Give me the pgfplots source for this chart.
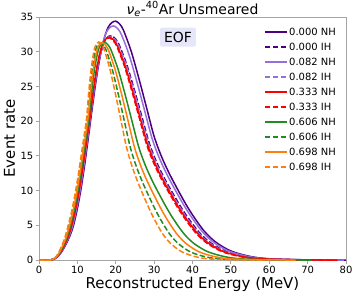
\documentclass[border=0pt]{standalone}
\usepackage{pgfplots}
\pgfplotsset{compat=1.18}
\usepackage{fontspec}
\setmainfont{DejaVu Sans}
\definecolor{spine}{RGB}{165,165,165}
\definecolor{cP}{RGB}{75,0,130}
\definecolor{cL}{RGB}{147,112,219}
\definecolor{cR}{RGB}{255,0,0}
\definecolor{cG}{RGB}{34,139,34}
\definecolor{cO}{RGB}{255,127,14}
\definecolor{eofbg}{RGB}{230,230,250}
\begin{document}
\begin{tikzpicture}
\begin{axis}[
  scale only axis, width=307bp, height=243bp,
  xmin=0, xmax=80, ymin=0, ymax=35,
  xtick={0,10,...,80}, ytick={0,5,...,35},
  tick align=outside, major tick length=3.5bp,
  xtick pos=bottom, ytick pos=left,
  axis line style={spine, line width=0.9bp},
  tick style={spine, line width=0.9bp},
  /pgf/number format/assume math mode=true,
  tick label style={font=\fontsize{10}{12}\selectfont},
  xticklabel style={anchor=base, inner sep=0pt, yshift=-10.3bp},
  yticklabel style={anchor=east, inner sep=0pt, xshift=-2bp},
  title={\textit{ν}\textsubscript{\textit{e}}-\textsuperscript{40}Ar Unsmeared},
  title style={font=\fontsize{14}{16}\selectfont, at={(axis description cs:0.5,1)}, anchor=base, yshift=-3bp},
  xlabel={Reconstructed Energy (MeV)},
  xlabel style={font=\fontsize{15}{17}\selectfont, at={(axis description cs:0.5,-0.1152)}, anchor=base},
  ylabel={Event rate},
  ylabel style={font=\fontsize{15}{17}\selectfont, at={(axis description cs:-0.0782,0.5)}, anchor=base, rotate=0},
  legend style={draw=none, fill=none, at={(axis description cs:1,1)}, anchor=north east, xshift=-8.5bp, yshift=-7.5bp,
    font=\fontsize{10}{12}\selectfont, inner sep=0pt, row sep=0pt,
    nodes={text height=7.3bp, text depth=0bp, inner ysep=3.85bp, inner xsep=1.5bp},
    /tikz/every even column/.append style={column sep=4bp}},
  legend cell align=left,
  legend image code/.code={\draw[#1, line width=1.6bp] (0bp,0bp) -- (22bp,0bp);},
  every axis plot/.append style={line width=1.5bp, smooth},
  solidl/.style={solid},
  dashl/.style={dash pattern=on 5.5bp off 2.4bp},
]
\coordinate (sw) at (rel axis cs:0,0);
\coordinate (ne) at (rel axis cs:1,1);

% 0.000 NH
\addplot[cP, solidl] coordinates {(0,0) (3,0) (4,0.15) (5,0.55) (6,1.25) (7,2.25) (8,3.4) (9,5.0) (10,7.4) (11,10.4) (12,14.1) (13,18.2) (14,22.4) (15,26.3) (16,29.5) (17,31.9) (18,33.5) (19,34.2) (20,34.4) (21,34.0) (22,33.1) (24,30.1) (26,26.2) (28,22.0) (30,17.8) (32,14.8) (34,12.4) (36,10.3) (38,8.3) (40,6.5) (43,4.2) (46,2.6) (50,1.3) (55,0.52) (60,0.18) (70,0.02) (80,0)};
\addlegendentry{0.000 NH}
% 0.000 IH
\addplot[cP, dashl] coordinates {(0,0) (3,0) (3.92,0.14) (4.83,0.52) (5.75,1.17) (6.67,2.11) (7.58,3.19) (8.5,4.7) (9.5,6.95) (10.5,9.77) (11.5,13.24) (12.5,17.09) (13.5,21.03) (14.38,24.7) (15.27,27.7) (16.15,29.95) (17.03,31.46) (17.92,32.11) (18.8,32.3) (19.8,31.93) (20.8,31.08) (22.8,28.26) (24.8,24.6) (26.8,20.66) (28.8,16.71) (30.8,13.9) (32.8,11.64) (34.8,9.67) (36.8,7.79) (38.8,6.1) (41.8,3.94) (44.8,2.44) (48.8,1.22) (53.8,0.49) (58.8,0.17) (68.8,0.02) (78.8,0)};
\addlegendentry{0.000 IH}
% 0.082 NH
\addplot[cL, solidl] coordinates {(0,0) (3,0) (3.96,0.15) (4.92,0.54) (5.88,1.23) (6.83,2.21) (7.79,3.33) (8.75,4.9) (9.75,7.25) (10.75,10.19) (11.75,13.82) (12.75,17.84) (13.75,21.95) (14.71,25.77) (15.67,28.91) (16.63,31.26) (17.58,32.83) (18.54,33.52) (19.5,33.71) (20.5,33.32) (21.5,32.44) (23.5,29.5) (25.5,25.68) (27.5,21.56) (29.5,17.44) (31.5,14.5) (33.5,12.15) (35.5,10.09) (37.5,8.13) (39.5,6.37) (42.5,4.12) (45.5,2.55) (49.5,1.27) (54.5,0.51) (59.5,0.18) (69.5,0.02) (79.5,0)};
\addlegendentry{0.082 NH}
% 0.082 IH
\addplot[cL, dashl] coordinates {(0,0) (3,0) (3.91,0.14) (4.82,0.51) (5.73,1.17) (6.63,2.11) (7.54,3.18) (8.45,4.68) (9.45,6.93) (10.45,9.73) (11.45,13.2) (12.45,17.04) (13.45,20.97) (14.33,24.62) (15.2,27.61) (16.08,29.86) (16.95,31.36) (17.83,32.01) (18.7,32.2) (19.69,31.82) (20.68,30.98) (22.66,28.17) (24.64,24.52) (26.62,20.59) (28.6,16.66) (30.58,13.85) (32.56,11.61) (34.54,9.64) (36.52,7.77) (38.5,6.08) (41.47,3.93) (44.44,2.43) (48.4,1.22) (53.35,0.49) (58.3,0.17) (68.2,0.02) (78.1,0)};
\addlegendentry{0.082 IH}
% 0.333 NH
\addplot[cR, solidl] coordinates {(0,0) (3,0) (3.89,0.14) (4.78,0.51) (5.68,1.17) (6.57,2.1) (7.46,3.17) (8.35,4.67) (9.35,6.9) (10.35,9.7) (11.35,13.16) (12.35,16.98) (13.35,20.9) (14.19,24.54) (15.03,27.52) (15.88,29.76) (16.72,31.26) (17.56,31.91) (18.4,32.1) (19.39,31.72) (20.38,30.88) (22.36,28.08) (24.34,24.44) (26.32,20.53) (28.3,16.61) (30.28,13.81) (32.26,11.57) (34.24,9.61) (36.22,7.74) (38.2,6.06) (41.17,3.92) (44.14,2.43) (48.1,1.21) (53.05,0.49) (58,0.17) (67.9,0.02) (77.8,0)};
\addlegendentry{0.333 NH}
% 0.333 IH
\addplot[cR, dashl] coordinates {(0,0) (3,0) (3.88,0.14) (4.77,0.51) (5.65,1.16) (6.53,2.09) (7.42,3.16) (8.3,4.65) (9.3,6.88) (10.3,9.67) (11.3,13.11) (12.3,16.93) (13.3,20.83) (14.13,24.46) (14.97,27.44) (15.8,29.67) (16.63,31.16) (17.47,31.81) (18.3,31.99) (19.28,31.62) (20.26,30.78) (22.22,27.99) (24.18,24.37) (26.14,20.46) (28.1,16.55) (30.06,13.76) (32.02,11.53) (33.98,9.58) (35.94,7.72) (37.9,6.05) (40.84,3.91) (43.78,2.42) (47.7,1.21) (52.6,0.48) (57.5,0.17) (67.3,0.02) (77.1,0)};
\addlegendentry{0.333 IH}
% 0.606 NH
\addplot[cG, solidl] coordinates {(0,0) (3,0) (3.83,0.14) (4.67,0.5) (5.5,1.14) (6.33,2.05) (7.17,3.1) (8.0,4.56) (9.0,6.75) (10.0,9.49) (11.0,12.87) (12.0,16.61) (13.0,20.45) (13.67,24.01) (14.33,26.93) (15.0,29.12) (15.67,30.58) (16.33,31.22) (17.0,31.4) (17.9,31.04) (18.8,30.21) (20.6,27.48) (22.4,23.92) (24.2,20.08) (26.0,16.25) (27.8,13.51) (29.6,11.32) (31.4,9.4) (33.2,7.58) (35.0,5.93) (37.7,3.83) (40.4,2.37) (44.0,1.19) (48.5,0.47) (53.0,0.16) (62.0,0.02) (71.0,0)};
\addlegendentry{0.606 NH}
% 0.606 IH
\addplot[cG, dashl] coordinates {(0,0) (3,0) (3.77,0.14) (4.53,0.5) (5.3,1.14) (6.07,2.05) (6.83,3.09) (7.6,4.55) (8.6,6.73) (9.6,9.46) (10.6,12.83) (11.6,16.56) (12.6,20.38) (13.17,23.93) (13.73,26.85) (14.3,29.03) (14.87,30.49) (15.43,31.12) (16.0,31.3) (16.78,30.94) (17.56,30.12) (19.12,27.39) (20.68,23.84) (22.24,20.02) (23.8,16.2) (25.36,13.47) (26.92,11.28) (28.48,9.37) (30.04,7.55) (31.6,5.92) (33.94,3.82) (36.28,2.37) (39.4,1.18) (43.3,0.47) (47.2,0.16) (55.0,0.02) (62.8,0)};
\addlegendentry{0.606 IH}
% 0.698 NH
\addplot[cO, solidl] coordinates {(0,0) (3,0) (3.79,0.14) (4.58,0.5) (5.38,1.14) (6.17,2.05) (6.96,3.09) (7.75,4.55) (8.75,6.73) (9.75,9.46) (10.75,12.83) (11.75,16.56) (12.75,20.38) (13.38,23.93) (14.0,26.85) (14.63,29.03) (15.25,30.49) (15.88,31.12) (16.5,31.3) (17.34,30.94) (18.18,30.12) (19.86,27.39) (21.54,23.84) (23.22,20.02) (24.9,16.2) (26.58,13.47) (28.26,11.28) (29.94,9.37) (31.62,7.55) (33.3,5.92) (35.82,3.82) (38.34,2.37) (41.7,1.18) (45.9,0.47) (50.1,0.16) (58.5,0.02) (66.9,0)};
\addlegendentry{0.698 NH}
% 0.698 IH
\addplot[cO, dashl] coordinates {(0,0) (3,0) (3.73,0.14) (4.47,0.5) (5.2,1.14) (5.93,2.05) (6.67,3.1) (7.4,4.56) (8.4,6.75) (9.4,9.49) (10.4,12.87) (11.4,16.61) (12.4,20.45) (12.93,24.01) (13.47,26.93) (14.0,29.12) (14.53,30.58) (15.07,31.22) (15.6,31.4) (16.32,31.04) (17.04,30.21) (18.48,27.48) (19.92,23.92) (21.36,20.08) (22.8,16.25) (24.24,13.51) (25.68,11.32) (27.12,9.4) (28.56,7.58) (30.0,5.93) (32.16,3.83) (34.32,2.37) (37.2,1.19) (40.8,0.47) (44.4,0.16) (51.6,0.02) (58.8,0)};
\addlegendentry{0.698 IH}

\node[fill=eofbg, rounded corners=2bp, font=\fontsize{14}{16}\selectfont, inner xsep=4bp, inner ysep=4.5bp, text height=10.2bp, text depth=0bp] at (axis cs:36.2,32.1) {EOF};
\end{axis}
\pgfresetboundingbox
\useasboundingbox ([shift={(-39bp,-36bp)}]sw) rectangle ([shift={(11bp,17bp)}]ne);
\end{tikzpicture}
\end{document}
